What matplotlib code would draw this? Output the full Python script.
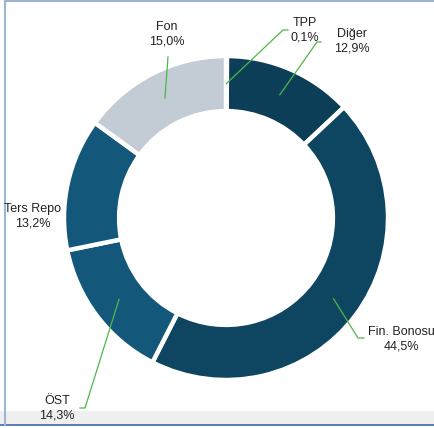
import numpy as np
import matplotlib.pyplot as plt
from matplotlib.patches import Rectangle

# slice data, clockwise from 12 o'clock
labels = ['TPP', 'Diğer', 'Fin. Bonosu', 'ÖST', 'Ters Repo', 'Fon']
shares = [0.1, 12.9, 44.5, 14.3, 13.2, 15.0]
pct_text = ['0,1%', '12,9%', '44,5%', '14,3%', '13,2%', '15,0%']
colors = ['#0c3f57', '#0c3f57', '#0e4560', '#13577a', '#13577a', '#c3ccd4']

W, H = 434, 428
cx, cy = 226, H - 218
r_out = 162
ring = 0.34

# label centre (pixels from top-left) and leader elbow points
label_pos = {
    'TPP': (305, 30), 'Diğer': (352, 41), 'Fin. Bonosu': (401, 339),
    'ÖST': (57, 408), 'Ters Repo': (33, 216), 'Fon': (167, 34),
}
leaders = {
    'TPP': [(288, 30), (283, 30)],
    'Diğer': [(321, 42), (317, 42)],
    'Fin. Bonosu': [(364, 338), (358, 338)],
    'ÖST': [(80, 408), (85, 408)],
    'Fon': [(168, 57)],
}

fig = plt.figure(figsize=(W / 100, H / 100), dpi=100)
ax = fig.add_axes([0, 0, 1, 1])

wedges, _ = ax.pie(shares, colors=colors, startangle=90, counterclock=False,
                   center=(cx, cy), radius=r_out,
                   wedgeprops=dict(width=r_out * ring, edgecolor='white', linewidth=3.2))

ax.set_xlim(0, W)
ax.set_ylim(0, H)
ax.set_aspect('equal')
ax.axis('off')

# frame bits
ax.add_patch(Rectangle((0, H - 424), W, 13, color='#efefef', lw=0, zorder=0))
ax.plot([0, W], [H - 425, H - 425], color='#3f6a9c', lw=1.2, zorder=1)
ax.plot([4.5, 4.5], [H - 425, H - 1], color='#9db4d3', lw=1.5, zorder=1)
ax.plot([4.5, W], [H - 1, H - 1], color='#9db4d3', lw=1.5, zorder=1)

r_mid = r_out * (1 - ring / 2)
for w, lab, pt in zip(wedges, labels, pct_text):
    lx, ly = label_pos[lab]
    ax.text(lx, H - ly, lab + '\n' + pt, ha='center', va='center', fontsize=9,
            family='Liberation Sans', color='#222222', linespacing=1.25)
    if lab in leaders:
        mid = np.deg2rad((w.theta1 + w.theta2) / 2)
        ax_pt = (cx + r_mid * np.cos(mid), cy + r_mid * np.sin(mid))
        pts = [(x, H - y) for x, y in leaders[lab]] + [ax_pt]
        xs, ys = zip(*pts)
        ax.plot(xs, ys, color='#4db848', lw=0.9, zorder=5)

fig.savefig('out.png', dpi=100)
